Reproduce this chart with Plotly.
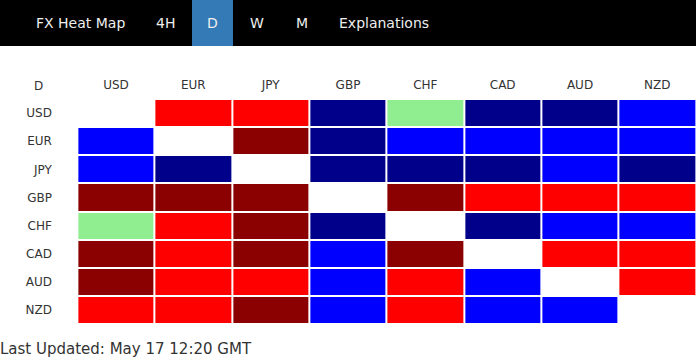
import plotly.graph_objects as go

currencies = ["USD", "EUR", "JPY", "GBP", "CHF", "CAD", "AUD", "NZD"]
# levels: -2 dark blue, -1 blue, 0 light green, 1 red, 2 dark red, None = same pair
usd = [None, 1, 1, -2, 0, -2, -2, -1]
eur = [-1, None, 2, -2, -1, -1, -1, -1]
jpy = [-1, -2, None, -2, -2, -2, -1, -2]
gbp = [2, 2, 2, None, 2, 1, 1, 1]
chf = [0, 1, 2, -2, None, -2, -1, -1]
cad = [2, 1, 2, -1, 2, None, 1, 1]
aud = [2, 1, 1, -1, 1, -1, None, 1]
nzd = [1, 1, 2, -1, 1, -1, -1, None]
rows = [usd, eur, jpy, gbp, chf, cad, aud, nzd]

menu_items = ["FX Heat Map", "4H", "D", "W", "M", "Explanations"]
menu_x = [80, 165, 212.5, 257, 301.5, 383.7]
active_item = "D"
corner_label = "D"
footer_text = "Last Updated: May 17 12:20 GMT"

W, H = 696, 360
FONT = "DejaVu Sans"

cs = [[0.0, "#00008B"], [0.2, "#00008B"], [0.2, "#0000FF"], [0.4, "#0000FF"],
      [0.4, "#90EE90"], [0.6, "#90EE90"], [0.6, "#FF0000"], [0.8, "#FF0000"],
      [0.8, "#8B0000"], [1.0, "#8B0000"]]

fig = go.Figure(go.Heatmap(
    z=rows, x=currencies, y=currencies,
    colorscale=cs, zmin=-2.5, zmax=2.5, showscale=False,
    xgap=2, ygap=2, hoverinfo="skip",
))

fig.update_layout(
    width=W, height=H, margin=dict(l=0, r=0, t=0, b=0),
    paper_bgcolor="white", plot_bgcolor="white",
    font=dict(family=FONT, size=12, color="#333333"),
    xaxis=dict(domain=[77.33 / W, 1], side="top", showgrid=False, zeroline=False,
               ticks="outside", ticklen=4, tickcolor="rgba(0,0,0,0)",
               tickfont=dict(size=12, color="#333333"), fixedrange=True),
    yaxis=dict(domain=[1 - 324 / H, 1 - 99 / H], autorange="reversed", showgrid=False,
               zeroline=False, ticks="outside", ticklen=22, tickcolor="rgba(0,0,0,0)",
               tickfont=dict(size=12, color="#333333"), fixedrange=True),
    showlegend=False,
)

# header bar
fig.add_shape(type="rect", xref="paper", yref="paper", x0=0, x1=1,
              y0=1 - 46 / H, y1=1, fillcolor="black", line_width=0, layer="above")
fig.add_shape(type="rect", xref="paper", yref="paper", x0=192 / W, x1=233 / W,
              y0=1 - 46 / H, y1=1, fillcolor="#337AB7", line_width=0, layer="above")
for label, mx in zip(menu_items, menu_x):
    fig.add_annotation(text=label, xref="paper", yref="paper", x=mx / W, y=1 - 23.5 / H,
                       xanchor="center", yanchor="middle", showarrow=False,
                       font=dict(family=FONT, size=14, color="#EEEEEE"))

# corner label
fig.add_annotation(text=corner_label, xref="paper", yref="paper", x=38.7 / W, y=1 - 86 / H,
                   xanchor="center", yanchor="middle", showarrow=False,
                   font=dict(family=FONT, size=12, color="#333333"))

# footer
fig.add_annotation(text=footer_text, xref="paper", yref="paper", x=0, y=1 - 348.5 / H,
                   xanchor="left", yanchor="middle", showarrow=False, xshift=-2,
                   font=dict(family=FONT, size=15, color="#333333"))

fig.write_html("out.html", config={"displayModeBar": False},
               post_script="document.body.style.margin='0';document.body.style.overflow='hidden';")
